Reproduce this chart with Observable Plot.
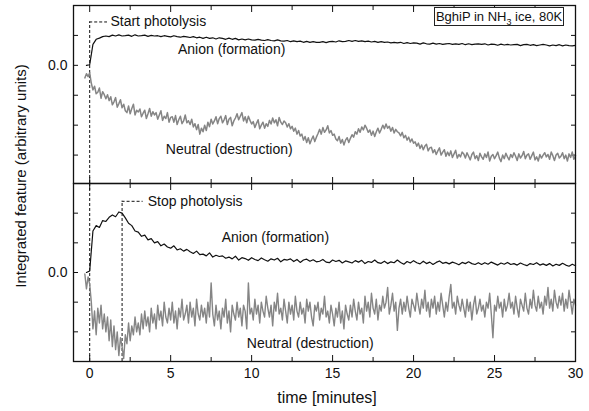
<!DOCTYPE html>
<html>
<head>
<meta charset="utf-8">
<script src="https://cdn.jsdelivr.net/npm/d3@7"></script>
<script src="https://cdn.jsdelivr.net/npm/@observablehq/plot@0.6"></script>
<style>
  body { margin: 0; background: #fff; }
  #wrap { position: relative; width: 589px; height: 411px; background: #fff; overflow: hidden;
          font-family: "Liberation Sans", Arial, Helvetica, sans-serif; color: #111; }
  #topPanel, #bottomPanel { position: absolute; left: 0; }
  #topPanel { top: 0; }
  #bottomPanel { top: 182px; }
  #legend { position: absolute; left: 434px; top: 7px; width: 128px; height: 17px; border: 1px solid #222;
            font-size: 13px; line-height: 17px; text-align: center; white-space: nowrap; background: #fff; }
  #legend .sub { font-size: 9px; position: relative; top: 4px; }
  #ylabel { position: absolute; left: 20px; top: 176px; transform: translate(-50%, -50%) rotate(-90deg);
            font-size: 15px; white-space: nowrap; }
  #xlabel { position: absolute; left: 327px; top: 398px; transform: translate(-50%, -50%);
            font-size: 16px; white-space: nowrap; }
</style>
</head>
<body>
<div id="wrap">
  <div id="topPanel"></div>
  <div id="bottomPanel"></div>
  <div id="legend">BghiP in NH<span class="sub">3</span> ice, 80K</div>
  <div id="ylabel">Integrated feature (arbitrary units)</div>
  <div id="xlabel">time [minutes]</div>
</div>
<script>
// ---------- axis definitions ----------
const xDomain = [-1, 30];
const majorX = [0, 5, 10, 15, 20, 25, 30];
const minorX = [2.5, 7.5, 12.5, 17.5, 22.5, 27.5];
const topYDomain = [-3.95, 2];
const topYTicks = [-3, -2, -1, 0, 1];
const bottomYDomain = [-3, 3];
const bottomYTicks = [-2, -1, 0, 1, 2];

// ---------- sampling grids ----------
const neutralStart = -0.3, neutralStep = 0.1;
const anionStart = -0.2, anionStep = 0.2;

// ---------- top panel (during photolysis) ----------
const anionTop = [
  0.0, 0.02,
  0.7,0.87,0.91,0.96,0.98,0.96,1.01,0.98,1.02,0.98,
  0.99,1.01,0.97,1.02,0.98,0.99,1.01,0.97,1.0,0.98,
  0.99,0.96,0.99,0.97,0.95,0.99,0.96,0.94,0.97,0.95,
  0.93,0.96,0.92,0.94,0.9,0.94,0.9,0.92,0.88,0.92,
  0.9,0.87,0.91,0.87,0.9,0.85,0.88,0.85,0.88,0.85,
  0.84,0.87,0.84,0.83,0.86,0.83,0.82,0.85,0.82,0.81,
  0.83,0.79,0.82,0.79,0.81,0.77,0.8,0.77,0.79,0.77,
  0.77,0.79,0.76,0.79,0.8,0.78,0.82,0.79,0.8,0.83,
  0.8,0.83,0.8,0.82,0.79,0.81,0.78,0.8,0.77,0.79,
  0.77,0.78,0.75,0.77,0.75,0.77,0.73,0.76,0.73,0.75,
  0.74,0.71,0.75,0.72,0.71,0.74,0.71,0.73,0.7,0.72,
  0.73,0.7,0.72,0.7,0.73,0.69,0.72,0.69,0.71,0.72,
  0.7,0.72,0.68,0.71,0.7,0.67,0.71,0.68,0.7,0.68,
  0.69,0.7,0.66,0.69,0.7,0.67,0.69,0.66,0.68,0.7,
  0.68,0.65,0.68,0.66,0.69,0.65,0.68,0.66,0.65,0.67
];
const neutralTop = [
  -0.42,-0.28,-0.38,-0.25,
  -0.6,-0.82,-0.7,-0.95,-0.9,-0.76,-1.1,-0.88,-0.98,-1.12,
  -0.98,-1.18,-1.05,-1.32,-1.22,-1.08,-1.4,-1.28,-1.15,-1.42,
  -1.3,-1.52,-1.58,-1.36,-1.62,-1.44,-1.3,-1.66,-1.5,-1.56,
  -1.46,-1.72,-1.6,-1.5,-1.78,-1.62,-1.44,-1.7,-1.55,-1.66,
  -1.58,-1.8,-1.66,-1.52,-1.84,-1.7,-1.78,-1.58,-1.9,-1.74,
  -1.72,-1.9,-1.68,-1.98,-1.82,-1.7,-1.95,-1.86,-1.66,-1.92,
  -1.85,-1.98,-1.8,-2.06,-1.95,-2.15,-1.98,-2.3,-2.1,-2.22,
  -2.0,-2.18,-1.9,-2.05,-1.8,-1.96,-1.86,-1.72,-1.95,-1.78,
  -1.7,-1.92,-1.82,-1.68,-1.98,-1.8,-1.74,-2.02,-1.86,-1.76,
  -1.62,-1.82,-1.7,-1.58,-1.86,-1.72,-1.92,-1.7,-1.84,-1.96,
  -1.88,-2.08,-1.94,-1.82,-2.12,-2.0,-1.9,-2.1,-1.95,-2.04,
  -1.84,-1.96,-1.76,-1.92,-1.82,-2.02,-1.74,-1.9,-1.98,-1.86,
  -1.92,-2.06,-1.95,-2.12,-2.04,-2.2,-2.1,-2.3,-2.18,-2.36,
  -2.3,-2.5,-2.38,-2.58,-2.42,-2.62,-2.48,-2.36,-2.55,-2.4,
  -2.28,-2.14,-2.3,-2.08,-2.24,-2.16,-2.02,-2.26,-2.18,-2.34,
  -2.3,-2.46,-2.52,-2.38,-2.6,-2.48,-2.66,-2.5,-2.42,-2.58,
  -2.44,-2.32,-2.4,-2.22,-2.3,-2.12,-2.24,-2.06,-2.16,-2.0,
  -2.1,-2.24,-2.16,-2.34,-2.2,-2.38,-2.22,-2.1,-2.26,-2.14,
  -2.0,-2.12,-1.96,-2.1,-2.04,-2.2,-2.08,-2.26,-2.14,-2.22,
  -2.26,-2.36,-2.24,-2.42,-2.34,-2.5,-2.4,-2.56,-2.46,-2.6,
  -2.56,-2.7,-2.6,-2.78,-2.66,-2.82,-2.7,-2.64,-2.86,-2.76,
  -2.74,-2.92,-2.82,-2.98,-2.86,-2.76,-3.0,-2.9,-2.82,-3.04,
  -2.9,-3.02,-2.86,-3.08,-2.96,-2.84,-3.1,-2.98,-3.06,-2.9,
  -2.96,-3.1,-2.92,-3.04,-3.16,-2.98,-2.9,-3.12,-3.02,-3.18,
  -2.94,-3.06,-3.14,-2.96,-3.08,-2.9,-3.2,-3.04,-2.98,-3.12,
  -3.02,-2.9,-3.1,-3.22,-3.0,-3.12,-2.94,-3.06,-3.16,-2.98,
  -3.08,-2.92,-3.04,-3.18,-2.96,-3.1,-3.02,-2.88,-3.12,-3.0,
  -2.96,-3.14,-3.02,-2.9,-3.16,-3.06,-3.2,-2.98,-3.1,-3.0,
  -2.92,-3.06,-2.98,-3.14,-2.9,-3.02,-3.18,-3.0,-2.94,-3.1,
  -3.04,-2.92,-3.12,-3.0,-3.2,-2.96,-3.08,-2.9,-3.14,-3.02
];

// ---------- bottom panel (photolysis stopped at 2 min) ----------
const anionBottom = [
  0.0, 0.05,
  1.4,1.58,1.52,1.75,1.72,1.86,1.94,1.88,2.04,2.0,
  1.84,1.66,1.58,1.4,1.36,1.22,1.26,1.1,1.14,1.0,
  1.04,0.9,0.96,0.86,0.82,0.9,0.76,0.8,0.72,0.78,
  0.7,0.64,0.72,0.6,0.62,0.56,0.66,0.52,0.58,0.54,
  0.56,0.48,0.52,0.46,0.55,0.42,0.5,0.47,0.41,0.5,
  0.44,0.4,0.49,0.43,0.38,0.46,0.42,0.48,0.36,0.44,
  0.42,0.46,0.37,0.44,0.34,0.42,0.45,0.38,0.43,0.36,
  0.38,0.44,0.35,0.33,0.42,0.37,0.41,0.32,0.39,0.36,
  0.32,0.4,0.35,0.41,0.3,0.37,0.34,0.42,0.33,0.31,
  0.38,0.3,0.36,0.33,0.42,0.34,0.28,0.37,0.32,0.4,
  0.33,0.29,0.38,0.3,0.35,0.27,0.34,0.39,0.31,0.34,
  0.29,0.35,0.31,0.26,0.34,0.3,0.36,0.3,0.27,0.33,
  0.27,0.33,0.28,0.35,0.3,0.25,0.32,0.28,0.34,0.27,
  0.3,0.25,0.32,0.27,0.23,0.3,0.27,0.33,0.25,0.29,
  0.24,0.3,0.22,0.28,0.24,0.31,0.25,0.21,0.28,0.23
];
const neutralBottom = [
  -0.05,-0.55,-0.15,-0.4,
  -1.0,-1.9,-1.3,-2.1,-1.2,-1.7,-1.1,-1.9,-1.4,-2.0,
  -1.5,-2.3,-1.6,-2.5,-1.8,-2.6,-2.0,-2.8,-2.2,-2.5,
  -2.9,-2.1,-2.4,-1.7,-2.3,-1.8,-2.1,-1.5,-2.0,-1.7,
  -2.1,-1.4,-1.9,-1.3,-1.8,-1.5,-2.0,-1.2,-1.7,-1.4,
  -1.9,-1.1,-1.6,-1.3,-1.8,-1.0,-1.5,-1.7,-1.2,-1.6,
  -1.0,-1.7,-1.3,-1.9,-1.2,-1.5,-0.9,-1.6,-1.4,-1.1,
  -1.7,-1.0,-1.5,-1.2,-1.8,-0.9,-1.4,-1.6,-1.1,-1.5,
  -1.2,-1.7,-1.0,-1.5,-0.35,-1.4,-1.8,-1.1,-1.6,-1.3,
  -1.9,-1.2,-1.5,-0.9,-1.7,-1.3,-2.0,-1.1,-1.4,-1.6,
  -1.0,-1.5,-1.2,-1.8,-1.1,-1.3,-1.9,-0.35,-1.4,-1.2,
  -1.6,-0.9,-1.4,-1.1,-1.7,-1.0,-1.3,-1.5,-0.8,-1.2,
  -1.5,-1.1,-1.8,-1.0,-1.3,-0.7,-1.4,-1.2,-1.6,-0.9,
  -1.3,-1.7,-1.0,-1.4,-1.1,-1.6,-0.8,-1.3,-1.5,-1.0,
  -1.4,-1.2,-1.7,-0.9,-1.3,-1.0,-1.5,-1.8,-1.1,-1.3,
  -1.0,-1.6,-1.2,-1.4,-0.8,-1.5,-1.3,-1.7,-1.1,-1.4,
  -1.8,-1.2,-1.5,-1.0,-1.7,-1.3,-1.9,-1.1,-1.4,-1.6,
  -1.1,-1.5,-0.9,-1.3,-1.6,-1.0,-1.4,-1.2,-1.7,-0.8,
  -1.3,-1.0,-1.5,-0.7,-1.2,-1.4,-0.9,-1.6,-1.1,-1.3,
  -0.8,-1.2,-1.0,-0.5,-1.4,-1.1,-0.7,-1.3,-1.0,-1.95,
  -1.2,-0.9,-1.4,-1.0,-1.3,-0.8,-1.2,-1.5,-0.9,-1.1,
  -1.3,-0.7,-1.1,-1.4,-0.9,-1.2,-0.6,-1.3,-1.0,-1.5,
  -0.9,-1.2,-0.8,-1.4,-1.0,-1.3,-0.7,-1.1,-1.5,-1.0,
  -1.3,-0.8,-0.4,-1.2,-1.0,-1.4,-0.8,-1.1,-1.3,-0.9,
  -1.2,-1.5,-0.9,-1.3,-1.0,-1.6,-1.1,-0.8,-1.4,-1.2,
  -0.9,-1.3,-1.1,-1.5,-1.0,-1.2,-0.7,-1.4,-2.2,-1.1,
  -1.3,-0.8,-1.2,-1.0,-1.5,-0.9,-1.3,-1.1,-0.7,-1.2,
  -1.0,-1.4,-0.8,-1.2,-1.5,-0.9,-1.1,-1.3,-0.7,-1.2,
  -1.4,-0.9,-1.2,-0.6,-1.1,-1.3,-0.8,-1.2,-1.0,-1.4,
  -0.8,-1.1,-0.5,-1.2,-0.9,-1.3,-0.6,-1.0,-1.2,-0.8,
  -1.1,-0.7,-1.3,-0.9,-1.2,-0.6,-1.0,-1.4,-0.9,-1.1
];

// ---------- annotations ----------
const photolysisStart = 0;
const photolysisStop = 2;
const topLabels = [
  {x: 1.28, y: 1.45, text: "Start photolysis"},
  {x: 5.45, y: 0.54, text: "Anion (formation)"},
  {x: 4.7, y: -2.82, text: "Neutral (destruction)"}
];
const bottomLabels = [
  {x: 3.58, y: 2.4, text: "Stop photolysis"},
  {x: 8.15, y: 1.18, text: "Anion (formation)"},
  {x: 9.7, y: -2.39, text: "Neutral (destruction)"}
];
const startLeaderEnd = 1.1;
const stopLeaderEnd = 3.3;

// ---------- styling ----------
const anionColor = "#111";
const neutralColor = "#858585";
const fontFamily = "'Liberation Sans', Arial, Helvetica, sans-serif";

const common = {
  width: 589,
  marginLeft: 73,
  marginRight: 14,
  x: {domain: xDomain, label: null},
  style: {background: "transparent", fontFamily, fontSize: "14px", color: "#111", overflow: "visible"}
};

function tickAxes(yTicks) {
  return [
    Plot.axisX({anchor: "top", ticks: majorX, tickSize: 6, dy: 6, fill: "none", label: null}),
    Plot.axisX({anchor: "top", ticks: minorX, tickSize: 4, dy: 4, fill: "none", label: null}),
    Plot.axisX({anchor: "bottom", ticks: majorX, tickSize: 6, dy: -6, fill: "none", label: null}),
    Plot.axisX({anchor: "bottom", ticks: minorX, tickSize: 4, dy: -4, fill: "none", label: null}),
    Plot.axisY({anchor: "left", ticks: yTicks, tickSize: 5, dx: 5, fill: "none", label: null}),
    Plot.axisY({anchor: "right", ticks: yTicks, tickSize: 5, dx: -5, fill: "none", label: null})
  ];
}
const zeroLabel = () => Plot.axisY({anchor: "left", ticks: [0], tickSize: 0, tickPadding: 6,
  tickFormat: d3.format(".1f"), label: null, fontSize: 14});

const xNeutral = (d, i) => neutralStart + i * neutralStep;
const xAnion = (d, i) => anionStart + i * anionStep;
const dash = "3,2";

const topPlot = Plot.plot({
  ...common,
  height: 184,
  marginTop: 5,
  marginBottom: 1,
  y: {domain: topYDomain, label: null},
  marks: [
    ...tickAxes(topYTicks),
    zeroLabel(),
    Plot.ruleX([photolysisStart], {y1: topYDomain[0], y2: topLabels[0].y, stroke: "#111", strokeDasharray: dash}),
    Plot.ruleY([topLabels[0].y], {x1: photolysisStart, x2: startLeaderEnd, stroke: "#111", strokeDasharray: dash}),
    Plot.line(neutralTop, {x: xNeutral, y: d => d, stroke: neutralColor, strokeWidth: 1.5}),
    Plot.line(anionTop, {x: xAnion, y: d => d, stroke: anionColor, strokeWidth: 1.2}),
    Plot.text(topLabels, {x: "x", y: "y", text: "text", textAnchor: "start", lineAnchor: "middle", fontSize: 14, fill: "#111"}),
    Plot.frame({stroke: "#111", strokeWidth: 1.3})
  ]
});

const bottomPlot = Plot.plot({
  ...common,
  height: 229,
  marginTop: 1,
  marginBottom: 50,
  y: {domain: bottomYDomain, label: null},
  marks: [
    ...tickAxes(bottomYTicks),
    zeroLabel(),
    Plot.axisX({anchor: "bottom", ticks: majorX, tickSize: 0, tickPadding: 7, label: null, fontSize: 14}),
    Plot.ruleX([photolysisStart], {y1: bottomYDomain[0], y2: bottomYDomain[1], stroke: "#111", strokeDasharray: dash}),
    Plot.ruleX([photolysisStop], {y1: bottomYDomain[0], y2: bottomLabels[0].y, stroke: "#111", strokeDasharray: dash}),
    Plot.ruleY([bottomLabels[0].y], {x1: photolysisStop, x2: stopLeaderEnd, stroke: "#111", strokeDasharray: dash}),
    Plot.line(neutralBottom, {x: xNeutral, y: d => d, stroke: neutralColor, strokeWidth: 1.4}),
    Plot.line(anionBottom, {x: xAnion, y: d => d, stroke: anionColor, strokeWidth: 1.2}),
    Plot.text(bottomLabels, {x: "x", y: "y", text: "text", textAnchor: "start", lineAnchor: "middle", fontSize: 14, fill: "#111"}),
    Plot.frame({stroke: "#111", strokeWidth: 1.3})
  ]
});

document.getElementById("topPanel").appendChild(topPlot);
document.getElementById("bottomPanel").appendChild(bottomPlot);
</script>
</body>
</html>
